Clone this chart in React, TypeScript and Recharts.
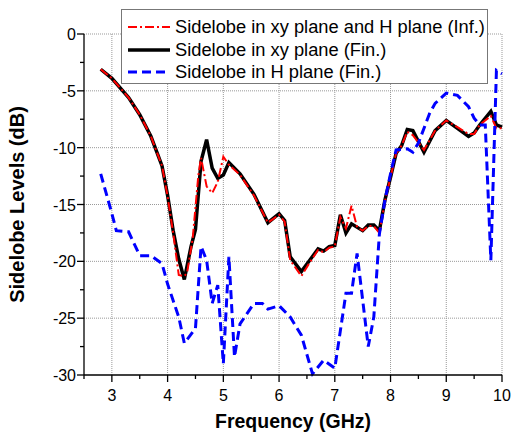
import { CartesianGrid, Line, LineChart, XAxis, YAxis } from "recharts";

const FONT = '"Liberation Sans", Arial, sans-serif';

// Sidelobe in xy plane (Fin.)
const freqFinXy = [2.8, 3.0, 3.3, 3.5, 3.7, 3.9, 4.0, 4.1, 4.2, 4.3, 4.42, 4.5, 4.6, 4.7, 4.8, 4.9, 5.0, 5.1, 5.3, 5.55, 5.8, 6.0, 6.1, 6.2, 6.4, 6.55, 6.7, 6.8, 6.9, 7.0, 7.1, 7.2, 7.3, 7.5, 7.6, 7.7, 7.8, 7.9, 8.0, 8.1, 8.2, 8.3, 8.4, 8.6, 8.8, 9.0, 9.2, 9.4, 9.5, 9.6, 9.8, 9.9, 10.0];
const slFinXy = [-3.1, -3.9, -5.6, -7.1, -9.0, -11.6, -14.2, -17.3, -19.8, -21.6, -18.7, -17.2, -11.2, -9.3, -11.8, -12.7, -12.4, -11.3, -12.3, -14.1, -16.6, -15.8, -16.4, -19.6, -20.9, -19.9, -18.9, -19.1, -18.7, -18.6, -15.9, -17.5, -16.7, -17.3, -16.8, -16.8, -17.3, -14.6, -12.6, -10.5, -9.8, -8.4, -8.5, -10.4, -8.5, -7.6, -8.3, -9.0, -8.7, -8.0, -6.8, -8.0, -8.2];

// Sidelobe in xy plane and H plane (Inf.)
const freqInf = [2.8, 3.0, 3.3, 3.5, 3.7, 3.9, 4.0, 4.1, 4.2, 4.3, 4.35, 4.45, 4.55, 4.6, 4.7, 4.8, 4.9, 5.0, 5.1, 5.3, 5.55, 5.8, 6.0, 6.1, 6.2, 6.4, 6.55, 6.7, 6.8, 6.9, 7.0, 7.1, 7.2, 7.3, 7.4, 7.5, 7.6, 7.7, 7.8, 7.9, 8.0, 8.1, 8.2, 8.3, 8.4, 8.6, 8.8, 9.0, 9.2, 9.4, 9.5, 9.6, 9.8, 9.9, 10.0];
const slInf = [-3.1, -3.9, -5.6, -7.1, -9.0, -11.6, -14.3, -17.5, -21.2, -21.3, -21.0, -18.0, -12.5, -10.9, -13.4, -14.0, -13.0, -10.8, -11.5, -12.4, -14.2, -16.6, -15.9, -16.5, -19.9, -21.3, -20.1, -19.0, -19.2, -18.8, -18.7, -16.1, -17.1, -15.1, -17.0, -17.3, -16.9, -16.9, -17.5, -14.7, -12.6, -10.5, -9.8, -8.6, -8.9, -10.2, -8.5, -7.6, -8.2, -8.8, -8.8, -8.0, -7.2, -8.3, -8.3];

// Sidelobe in H plane (Fin.)
const freqFinH = [2.8, 3.0, 3.08, 3.3, 3.5, 3.7, 3.9, 4.0, 4.2, 4.3, 4.5, 4.6, 4.7, 4.8, 4.9, 5.0, 5.1, 5.2, 5.3, 5.55, 5.7, 5.8, 6.0, 6.2, 6.4, 6.6, 6.8, 7.0, 7.2, 7.3, 7.4, 7.5, 7.6, 7.7, 7.8, 7.9, 8.0, 8.1, 8.3, 8.4, 8.5, 8.7, 8.8, 9.0, 9.2, 9.4, 9.5, 9.6, 9.7, 9.8, 9.9, 10.0];
const slFinH = [-12.3, -15.8, -17.3, -17.4, -19.5, -19.5, -20.2, -22.0, -24.9, -27.2, -25.9, -18.7, -19.9, -23.7, -22.1, -29.0, -19.6, -28.4, -25.5, -23.7, -23.7, -24.2, -23.9, -24.9, -26.5, -29.9, -28.7, -29.4, -22.8, -22.8, -19.3, -23.4, -27.5, -24.9, -17.6, -14.6, -12.3, -10.2, -10.1, -10.4, -9.6, -7.0, -6.1, -5.2, -5.4, -6.4, -7.4, -8.0, -8.0, -19.9, -3.2, -3.5];

const xTicks = [2.5, 3, 3.5, 4, 4.5, 5, 5.5, 6, 6.5, 7, 7.5, 8, 8.5, 9, 9.5, 10];
const yTicks = [0, -2.5, -5, -7.5, -10, -12.5, -15, -17.5, -20, -22.5, -25, -27.5, -30];
const xGrid = [3, 4, 5, 6, 7, 8, 9, 10];
const yGrid = [0, -5, -10, -15, -20, -25];

const toPoints = (xs: number[], ys: number[]) => xs.map((f, i) => ({ f, v: ys[i] }));

const series = [
  { name: "Sidelobe in xy plane and H plane (Inf.)", color: "#ff0000", width: 2, dash: "9 3 2 3" },
  { name: "Sidelobe in xy plane (Fin.)", color: "#000000", width: 3.5, dash: undefined },
  { name: "Sidelobe in H plane (Fin.)", color: "#0000ff", width: 3, dash: "9 5" },
];

const XTick = (props: any) => {
  const { x, y, payload } = props;
  const major = Number.isInteger(payload.value);
  return (
    <g>
      <line x1={x} y1={y} x2={x} y2={y + (major ? 7 : 4)} stroke="#000" strokeWidth={1.3} />
      {major && (
        <text x={x} y={y + 26} textAnchor="middle" fontSize={16} fontFamily={FONT} fill="#000">
          {payload.value}
        </text>
      )}
    </g>
  );
};

const YTick = (props: any) => {
  const { x, y, payload } = props;
  const major = payload.value % 5 === 0;
  return (
    <g>
      <line x1={x} y1={y} x2={x - (major ? 7 : 4)} y2={y} stroke="#000" strokeWidth={1.3} />
      {major && (
        <text x={x - 8} y={y + 6} textAnchor="end" fontSize={16} fontFamily={FONT} fill="#000">
          {payload.value}
        </text>
      )}
    </g>
  );
};

export default function App() {
  return (
    <div style={{ position: "absolute", left: 0, top: 0, width: 511, height: 435, background: "#fff" }}>
      <LineChart width={511} height={435} margin={{ top: 34, right: 9, left: 0, bottom: 0 }}>
        <CartesianGrid
          horizontalValues={yGrid}
          verticalValues={xGrid}
          stroke="#999"
          strokeDasharray="1 1"
        />
        <XAxis
          type="number"
          dataKey="f"
          domain={[2.5, 10]}
          ticks={xTicks}
          tick={<XTick />}
          tickLine={false}
          tickSize={0}
          tickMargin={0}
          interval={0}
          height={60}
          axisLine={{ stroke: "#000", strokeWidth: 1.3 }}
          allowDuplicatedCategory={false}
          label={{ value: "Frequency (GHz)", position: "insideBottom", offset: 7, fontSize: 19.5, fontWeight: "bold", fontFamily: FONT, fill: "#000" }}
        />
        <YAxis
          type="number"
          dataKey="v"
          domain={[-30, 0]}
          ticks={yTicks}
          tick={<YTick />}
          tickLine={false}
          tickSize={0}
          tickMargin={0}
          interval={0}
          width={84}
          axisLine={{ stroke: "#000", strokeWidth: 1.3 }}
          label={{ value: "Sidelobe Levels (dB)", angle: -90, position: "insideLeft", offset: 17, fontSize: 20, fontWeight: "bold", fontFamily: FONT, fill: "#000", style: { textAnchor: "middle" } }}
        />
        <Line
          data={toPoints(freqFinXy, slFinXy)}
          dataKey="v"
          type="linear"
          stroke="#000"
          strokeWidth={3.5}
          dot={false}
          isAnimationActive={false}
        />
        <Line
          data={toPoints(freqInf, slInf)}
          dataKey="v"
          type="linear"
          stroke="#ff0000"
          strokeWidth={2}
          strokeDasharray="9 3 2 3"
          dot={false}
          isAnimationActive={false}
        />
        <Line
          data={toPoints(freqFinH, slFinH)}
          dataKey="v"
          type="linear"
          stroke="#0000ff"
          strokeWidth={3}
          strokeDasharray="9 5"
          dot={false}
          isAnimationActive={false}
        />
      </LineChart>
      <div
        style={{
          position: "absolute",
          left: 121,
          top: 9,
          width: 365,
          height: 73,
          border: "1px solid #777",
          background: "#fff",
          fontFamily: FONT,
          fontSize: 18.3,
          color: "#000",
        }}
      >
        {series.map((s, i) => (
          <div key={s.name} style={{ position: "absolute", left: 5, top: 7 + i * 22.5, height: 20, display: "flex", alignItems: "center", whiteSpace: "nowrap" }}>
            <svg width={44} height={10} style={{ marginRight: 4 }}>
              <line x1={1} y1={5} x2={43} y2={5} stroke={s.color} strokeWidth={s.width} strokeDasharray={s.dash} />
            </svg>
            <span>{s.name}</span>
          </div>
        ))}
      </div>
    </div>
  );
}
